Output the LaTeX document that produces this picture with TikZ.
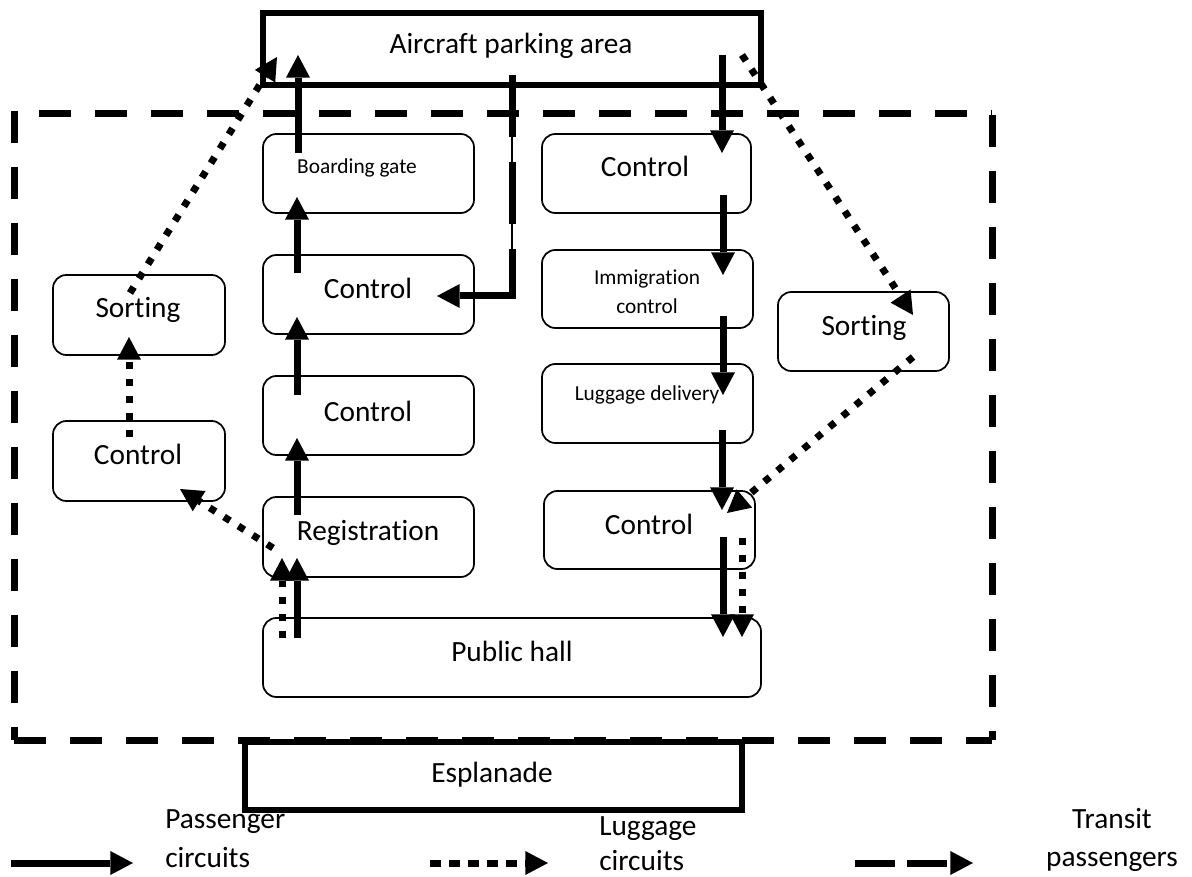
\documentclass[tikz,border=0pt]{standalone}
\usepackage{fontspec}
\setmainfont{Carlito}[Ligatures=NoCommon]
\usetikzlibrary{arrows.meta}
\begin{document}
\begin{tikzpicture}[x=0.75pt,y=-0.75pt,
  box/.style={draw, line width=1.3pt, rounded corners=10pt, inner sep=0pt},
  thickbox/.style={draw, line width=4.5pt, inner sep=0pt},
  big/.style={font=\fontsize{22}{26}\selectfont, anchor=base, inner sep=0pt},
  small/.style={font=\fontsize{16}{19}\selectfont, anchor=base, inner sep=0pt},
  tip/.style={-{Triangle[length=17pt,width=18pt,line width=0pt]}},
  pass/.style={line width=5.25pt, tip},
  lug/.style={line width=5.25pt, dash pattern=on 5.25pt off 7.5pt, tip},
  outer/.style={line width=5.25pt, dash pattern=on 24pt off 18pt}
]
\useasboundingbox (0,0) rectangle (1192,877);

% outer dashed area
\draw[outer] (14,111) -- (14,740);
\draw[outer] (39,114) -- (992,114);
\draw[outer] (992,115) -- (992,740);
\draw[outer] (14,740) -- (992,740);

% boxes
\node[thickbox, minimum width=373.5pt, minimum height=54pt] (air) at (512,49) {};
\node[big] (airt) at (511,54) {Aircraft parking area};

\node[box, minimum width=158.25pt, minimum height=59.25pt] (bg) at (368.5,173.5) {};
\node[small] (bgt) at (357,174) {Boarding gate};
\node[box, minimum width=158.25pt, minimum height=59.25pt] (c2a) at (368.5,294.5) {};
\node[big] (c2at) at (368,299) {Control};
\node[box, minimum width=158.25pt, minimum height=59.25pt] (c2b) at (368.5,415.5) {};
\node[big] (c2bt) at (368,421) {Control};
\node[box, minimum width=158.25pt, minimum height=60pt] (reg) at (368.5,537) {};
\node[big] (regt) at (368,540) {Registration};
\node[box, minimum width=373.5pt, minimum height=59.25pt] (pub) at (512,657.5) {};
\node[big] (pubt) at (512,661) {Public hall};
\node[thickbox, minimum width=372.75pt, minimum height=51pt] (esp) at (493.5,776) {};
\node[big] (espt) at (492,782) {Esplanade};

\node[box, minimum width=156.75pt, minimum height=59.25pt] (rc1) at (646.5,173.5) {};
\node[big] (rc1t) at (645,177) {Control};
\node[box, minimum width=158.25pt, minimum height=58.5pt] (imm) at (647.5,289) {};
\node[small] (immt) at (647,285) {Immigration};
\node[small] (immt2) at (647,313) {control};
\node[box, minimum width=158.25pt, minimum height=59.25pt] (lug) at (647.5,403.5) {};
\node[small] (lugt) at (647,400) {Luggage delivery};
\node[box, minimum width=158.25pt, minimum height=58.5pt] (rc2) at (649.5,530) {};
\node[big] (rc2t) at (649,534) {Control};

\node[box, minimum width=128.25pt, minimum height=59.25pt] (sr) at (863.5,331.5) {};
\node[big] (srt) at (864,335) {Sorting};
\node[box, minimum width=129pt, minimum height=60pt] (sl) at (139,315) {};
\node[big] (slt) at (138,317) {Sorting};
\node[box, minimum width=129pt, minimum height=60pt] (cl) at (139,461) {};
\node[big] (clt) at (138,464) {Control};

% connector end points
\coordinate (a1) at (297,638); \coordinate (a2) at (297,558);
\coordinate (b1) at (297,515); \coordinate (b2) at (297,438);
\coordinate (c1) at (297,395); \coordinate (c2) at (297,317);
\coordinate (d1) at (297,273); \coordinate (d2) at (297,197);
\coordinate (e1) at (298,153); \coordinate (e2) at (298,55);
\coordinate (f1) at (722,55);  \coordinate (f2) at (722,153);
\coordinate (g1) at (723,195); \coordinate (g2) at (723,275);
\coordinate (h1) at (723,316); \coordinate (h2) at (723,395);
\coordinate (i1) at (722,430); \coordinate (i2) at (722,510);
\coordinate (j1) at (723,537); \coordinate (j2) at (723,637);
\coordinate (k1) at (282,638); \coordinate (k2) at (282,558);
\coordinate (l1) at (742,538); \coordinate (l2) at (742,637);
\coordinate (m1) at (742,55);  \coordinate (m2) at (913,315);
\coordinate (n1) at (913,357); \coordinate (n2) at (727,513);
\coordinate (o1) at (273,548); \coordinate (o2) at (180,489);
\coordinate (q1) at (129,437); \coordinate (q2) at (129,337);
\coordinate (r1) at (130,293); \coordinate (r2) at (277,57);
\coordinate (t1) at (512,75);  \coordinate (t2) at (512,299.5);
\coordinate (t3) at (515.5,296); \coordinate (t4) at (437,296);

% passenger circuits
\foreach \s/\e in {a1/a2,b1/b2,c1/c2,d1/d2,e1/e2,f1/f2,g1/g2,h1/h2,i1/i2,j1/j2}
  \draw[pass] (\s) -- (\e);
% luggage circuits
\foreach \s/\e in {k1/k2,l1/l2,m1/m2,n1/n2,o1/o2,q1/q2,r1/r2}
  \draw[lug] (\s) -- (\e);
% transit passengers
\draw[line width=1.2pt] (t1) -- (t2);
\draw[line width=5.25pt, dash pattern=on 46.5pt off 18.75pt] (t1) -- (t2);
\draw[pass] (t3) -- (t4);

% legend
\coordinate (L1a) at (11,863);  \coordinate (L1b) at (133,863);
\coordinate (L2a) at (430,863); \coordinate (L2b) at (548,863);
\coordinate (L3a) at (855,863); \coordinate (L3b) at (973,863);
\draw[pass] (L1a) -- (L1b);
\draw[line width=5.25pt, dash pattern=on 8.25pt off 6pt, tip] (L2a) -- (L2b);
\draw[line width=5.25pt, dash pattern=on 30pt off 9pt, tip] (L3a) -- (L3b);
\node[big, anchor=base west] (lg1) at (165,828) {Passenger};
\node[big, anchor=base west] (lg1b) at (165,867) {circuits};
\node[big, anchor=base west] (lg2) at (599,835) {Luggage};
\node[big, anchor=base west] (lg2b) at (599,870) {circuits};
\node[big] (lg3) at (1112,828) {Transit};
\node[big] (lg3b) at (1112,866) {passengers};
\end{tikzpicture}
\end{document}
